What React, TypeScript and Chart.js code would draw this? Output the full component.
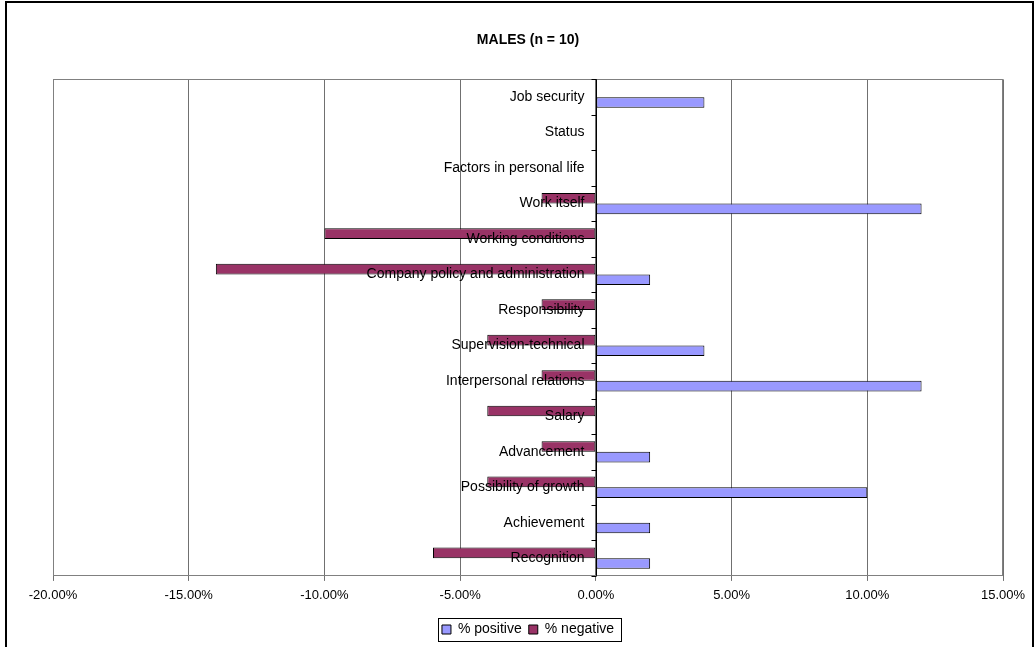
import React, { useEffect, useRef } from 'react';
import { Chart, registerables } from 'chart.js';

Chart.register(...registerables);

const categories = [
  'Job security',
  'Status',
  'Factors in personal life',
  'Work itself',
  'Working conditions',
  'Company policy and administration',
  'Responsibility',
  'Supervision-technical',
  'Interpersonal relations',
  'Salary',
  'Advancement',
  'Possibility of growth',
  'Achievement',
  'Recognition',
];
const positiveValues = [4, 0, 0, 12, 0, 2, 0, 4, 12, 0, 2, 10, 2, 2];
const negativeValues = [0, 0, 0, -2, -10, -14, -2, -4, -2, -4, -2, -4, 0, -6];
const xMin = -20;
const xMax = 15;
const xStep = 5;
const titleText = 'MALES (n = 10)';
const positiveLabel = '% positive';
const negativeLabel = '% negative';

const FONT = '"Liberation Sans", Arial, Helvetica, sans-serif';

const overlayPlugin = {
  id: 'overlay',
  beforeDatasetsDraw(chart: any) {
    const { ctx, chartArea: a } = chart;
    ctx.save();
    ctx.strokeStyle = '#808080';
    ctx.lineWidth = 1;
    ctx.strokeRect(Math.round(a.left) + 0.5, Math.round(a.top) + 0.5, Math.round(a.right - a.left) - 1, Math.round(a.bottom - a.top) - 1);
    ctx.restore();
  },
  afterDatasetsDraw(chart: any) {
    const { ctx, chartArea: a } = chart;
    const xs = chart.scales.x;
    const ys = chart.scales.y;
    const x0 = Math.round(xs.getPixelForValue(0)) + 0.5;
    ctx.save();
    ctx.strokeStyle = '#000';
    ctx.lineWidth = 1;
    ctx.beginPath();
    ctx.moveTo(x0, a.top);
    ctx.lineTo(x0, a.bottom);
    for (let i = 0; i <= categories.length; i++) {
      const py = Math.round(ys.getPixelForValue(i - 0.5)) + 0.5;
      ctx.moveTo(x0 - 5, py);
      ctx.lineTo(x0, py);
    }
    ctx.stroke();
    ctx.fillStyle = '#000';
    ctx.font = '14px ' + FONT;
    ctx.textAlign = 'right';
    ctx.textBaseline = 'middle';
    categories.forEach((c, i) => {
      ctx.fillText(c, x0 - 12, ys.getPixelForValue(i));
    });
    ctx.restore();
  },
  afterDraw(chart: any) {
    const lg = chart.legend;
    if (!lg || !lg.legendHitBoxes || !lg.legendHitBoxes.length) return;
    const hb = lg.legendHitBoxes;
    const l = Math.min(...hb.map((h: any) => h.left)) - 4;
    const r = Math.max(...hb.map((h: any) => h.left + h.width)) + 7;
    const cy = hb[0].top + hb[0].height / 2;
    const ctx = chart.ctx;
    ctx.save();
    ctx.strokeStyle = '#000';
    ctx.lineWidth = 1;
    ctx.strokeRect(Math.round(l) + 0.5, Math.round(cy - 11.5) + 0.5, Math.round(r - l), 23);
    ctx.restore();
  },
};

export default function App() {
  const ref = useRef<HTMLCanvasElement>(null);
  useEffect(() => {
    document.body.style.overflow = 'hidden';
    const canvas = ref.current;
    if (!canvas) return;
    const chart = new Chart(canvas, {
      type: 'bar',
      data: {
        labels: categories,
        datasets: [
          {
            label: negativeLabel,
            data: negativeValues,
            backgroundColor: '#993366',
            borderColor: '#000000',
            borderWidth: 1,
            borderSkipped: false,
          },
          {
            label: positiveLabel,
            data: positiveValues,
            backgroundColor: '#9999FF',
            borderColor: '#000000',
            borderWidth: 1,
            borderSkipped: false,
          },
        ],
      },
      options: {
        indexAxis: 'y',
        animation: false,
        responsive: false,
        maintainAspectRatio: false,
        layout: { padding: { left: 53, right: 33, top: 0, bottom: 0.5 } },
        datasets: { bar: { categoryPercentage: 0.6, barPercentage: 1 } },
        font: { family: FONT },
        scales: {
          x: {
            type: 'linear',
            min: xMin,
            max: xMax,
            ticks: {
              stepSize: xStep,
              callback: (v: any) => Number(v).toFixed(2) + '%',
              color: '#000',
              font: { size: 13, family: FONT },
              padding: 7,
              maxRotation: 0,
              autoSkip: false,
            },
            grid: { color: '#707070', tickLength: 5, drawTicks: true, lineWidth: 1 },
            border: { color: '#707070', width: 1 },
            afterFit: (s: any) => {
              s.height += 5;
            },
          },
          y: {
            type: 'category',
            display: false,
            offset: true,
          },
        },
        plugins: {
          title: {
            display: true,
            text: titleText,
            fullSize: false,
            color: '#000',
            font: { size: 14, weight: 'bold', family: FONT },
            padding: { top: 31.6, bottom: 31 },
          },
          legend: {
            position: 'bottom',
            fullSize: false,
            reverse: true,
            labels: {
              boxWidth: 9,
              boxHeight: 9,
              color: '#000',
              font: { size: 14, family: FONT },
              padding: 7,
            },
          },
          tooltip: { enabled: false },
        },
      } as any,
      plugins: [overlayPlugin],
    });
    return () => chart.destroy();
  }, []);

  return (
    <>
      <div
        style={{
          position: 'absolute',
          left: 5,
          top: 1,
          width: 1029,
          height: 646,
          border: '2px solid #000',
          borderBottom: 'none',
          boxSizing: 'border-box',
        }}
      />
      <canvas
        ref={ref}
        width={1036}
        height={647}
        style={{ position: 'absolute', left: 0, top: 0, width: 1036, height: 647, display: 'block' }}
      />
    </>
  );
}
